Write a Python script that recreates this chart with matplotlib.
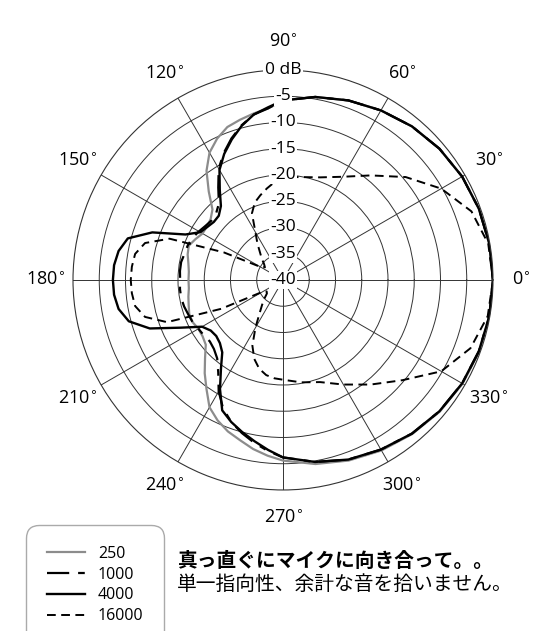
import numpy as np
import matplotlib.pyplot as plt

plt.rcParams['font.family'] = ['Open Sans', 'Noto Sans CJK JP', 'DejaVu Sans']

# angle (deg) and level (dB)
angles = [0, 10, 20, 30, 40, 50, 60, 70, 80, 90,
          95, 100, 105, 110, 115, 120, 125, 130, 135, 140, 145, 150, 155, 160, 165, 170, 175, 180,
          185, 190, 195, 200, 205, 210, 215, 220, 225, 230, 235, 240, 245, 250, 255, 260, 265,
          270, 280, 290, 300, 310, 320, 330, 340, 350, 360]

db_250 = [0, -0.1, -0.3, -0.6, -1.1, -1.8, -2.7, -3.6, -4.6, -5.8,
          -7.2, -7.8, -8.4, -9.0, -10.3, -12.0, -14.6, -18.0, -21.0, -22.0, -22.3, -22.3, -21.6, -20.9,
          -21.2, -21.7, -22.0, -22.0,
          -22.0, -21.7, -21.4, -21.0, -21.0, -21.4, -21.3, -20.8, -19.0, -16.8, -14.6, -12.0, -10.5,
          -9.3, -8.4, -7.3, -6.4,
          -5.6, -4.4, -3.4, -2.5, -1.7, -1.0, -0.5, -0.2, -0.05, 0]

db_1000 = [0, -0.1, -0.3, -0.6, -1.1, -1.8, -2.7, -3.6, -4.6, -5.8,
           -7.2, -8.0, -9.5, -11.3, -13.3, -15.5, -18.5, -21.0, -22.0, -22.3, -22.0, -21.5, -21.0, -20.7,
           -20.6, -20.3, -20.3, -20.4,
           -20.3, -20.3, -20.5, -20.8, -21.0, -21.4, -21.6, -21.8, -21.4, -20.5, -18.5, -15.5, -13.0,
           -11.2, -9.8, -8.5, -7.3,
           -6.2, -4.8, -3.6, -2.7, -1.8, -1.1, -0.6, -0.3, -0.1, 0]

db_4000 = [0, -0.1, -0.3, -0.6, -1.1, -1.8, -2.7, -3.6, -4.6, -5.8,
           -7.0, -8.0, -9.6, -11.5, -13.5, -15.8, -19.0, -21.6, -22.7, -22.8, -22.4, -21.8, -19.5, -13.5,
           -9.4, -8.2, -7.7, -7.6,
           -7.7, -8.2, -9.6, -13.0, -18.5, -22.2, -23.2, -23.4, -23.0, -22.0, -19.4, -16.0, -12.6,
           -11.2, -10.0, -8.8, -7.5,
           -6.2, -4.8, -3.6, -2.7, -1.8, -1.1, -0.6, -0.3, -0.1, 0]

db_16000 = [0, -0.3, -1.8, -5.2, -9.5, -14.0, -17.3, -19.2, -20.1, -20.4,
            -21.3, -22.3, -23.3, -24.3, -26.0, -29.5, -31.5, -33.2, -34.3, -35.3, -35.8, -35.0, -27.6, -17.0,
            -12.8, -11.4, -11.1, -11.0,
            -11.1, -11.4, -12.8, -16.5, -27.0, -35.5, -36.2, -36.0, -35.0, -33.8, -32.2, -29.5, -26.2,
            -24.0, -22.5, -21.6, -21.2,
            -21.0, -20.2, -19.3, -17.0, -14.0, -10.3, -5.2, -2.0, -0.4, 0]

ring_levels = [0, -5, -10, -15, -20, -25, -30, -35, -40]
ring_labels = ['0 dB', '-5', '-10', '-15', '-20', '-25', '-30', '-35', '-40']
spoke_angles = list(range(0, 360, 30))

fig = plt.figure(figsize=(5.53, 6.31), dpi=100)
ax = fig.add_axes([0.1320, 0.2235, 0.7595, 0.6656], projection='polar')
ax.set_theta_zero_location('E')
ax.set_ylim(-40, 0)
ax.set_yticks(ring_levels[1:-1])
ax.set_yticklabels([])
ax.set_xticks(np.deg2rad(spoke_angles))
ax.set_xticklabels([])
ax.tick_params(length=0)
ax.grid(True, color='#333333', lw=0.7)
ax.xaxis.get_gridlines()[3].set_visible(False)  # no spoke at 90, the labels sit there
ax.spines['polar'].set_color('#333333')
ax.spines['polar'].set_linewidth(0.8)
ax.set_axisbelow(True)

theta = np.deg2rad(angles)
ax.plot(theta, db_250, color='#8c8c8c', lw=1.6, label='250')
ax.plot(theta, db_1000, color='black', lw=1.6, ls=(0, (10, 4, 3, 4)), label='1000')
ax.plot(theta, db_4000, color='black', lw=1.7, label='4000')
ax.plot(theta, db_16000, color='black', lw=1.4, ls=(0, (4.5, 2.8)), label='16000')

for r, lab in zip(ring_levels, ring_labels):
    ax.text(np.pi / 2, r, lab, ha='center', va='center', fontsize=12.5, zorder=10,
            bbox=dict(facecolor='white', edgecolor='none', pad=1.0))

for a in spoke_angles:
    ax.text(np.deg2rad(a), 5.3, f'{a}$^{{\\circ}}$', ha='center', va='center', fontsize=13)

leg = ax.legend(loc='upper left', bbox_to_anchor=(26 / 553, 1 - 525 / 631),
                bbox_transform=fig.transFigure, fontsize=11.5, frameon=True, fancybox=True,
                edgecolor='#aaaaaa', framealpha=1, borderaxespad=0, borderpad=1.3,
                handlelength=2.4, handletextpad=0.8, labelspacing=0.3)
leg.get_frame().set_boxstyle('round,pad=0,rounding_size=0.8')
leg.get_frame().set_linewidth(1.0)

fig.text(177 / 553, 1 - 561 / 631, '真っ直ぐにマイクに向き合って。。', fontsize=14.2,
         fontweight='bold', va='center', family=['Noto Sans CJK JP', 'DejaVu Sans'])
fig.text(177 / 553, 1 - 584 / 631, '単一指向性、余計な音を拾いません。', fontsize=14.2,
         va='center', family=['Noto Sans CJK JP', 'DejaVu Sans'])

fig.savefig('out.png', dpi=100)
